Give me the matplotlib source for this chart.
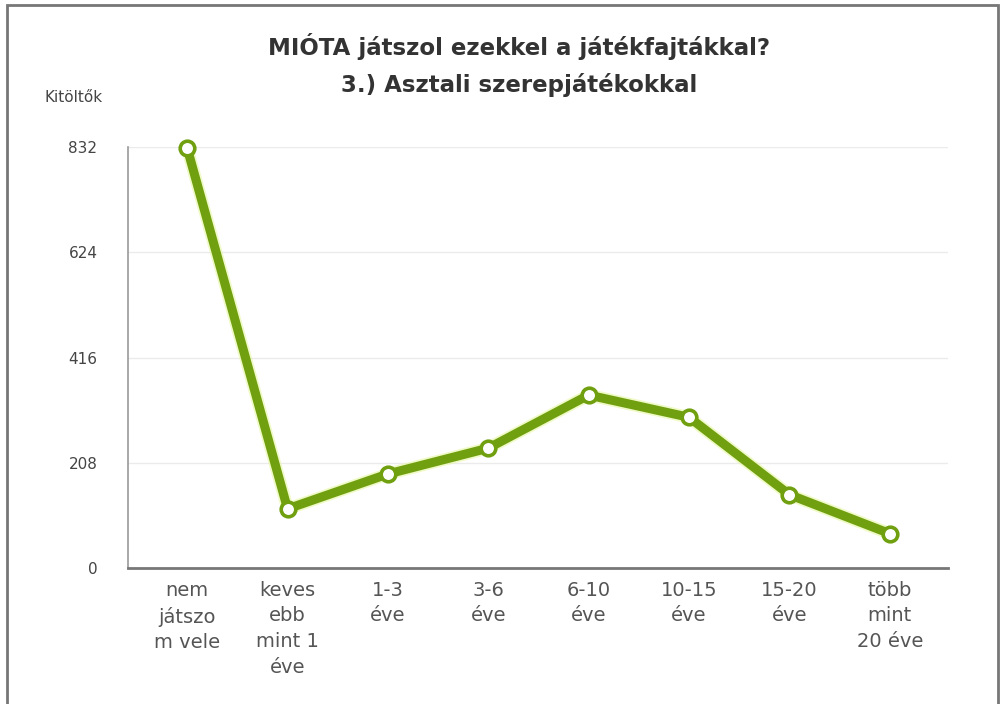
import matplotlib.pyplot as plt
from matplotlib.patches import Rectangle

plt.rcParams['font.family'] = ['DejaVu Sans']

# Data
categories = ["nem\njátszo\nm vele", "keves\nebb\nmint 1\néve", "1-3\néve", "3-6\néve",
              "6-10\néve", "10-15\néve", "15-20\néve", "több\nmint\n20 éve"]
values = [830, 117, 186, 237, 342, 298, 145, 68]
yticks = [0, 208, 416, 624, 832]

green = '#70a010'

fig = plt.figure(figsize=(10.04, 7.04), dpi=100)
ax = fig.add_axes([128 / 1004, 1 - 568 / 704, (948 - 128) / 1004, (568 - 147.3) / 704])

x = list(range(len(categories)))
# light halo behind the line
ax.plot(x, values, color='#e6f7a0', lw=9, solid_capstyle='round', zorder=2, alpha=0.6)
ax.plot(x, values, color=green, lw=6.5, zorder=3,
        marker='o', markersize=10.5, markerfacecolor='white',
        markeredgecolor=green, markeredgewidth=2.6, clip_on=False)

ax.set_xlim(-0.59, 7.58)
ax.set_ylim(0, 832)
ax.set_yticks(yticks)
ax.set_yticklabels([str(v) for v in yticks], fontsize=11, color='#444444')
ax.set_xticks(x)
ax.set_xticklabels(categories, fontsize=14, color='#555555', linespacing=1.45)
ax.tick_params(axis='both', length=0)
ax.tick_params(axis='y', pad=22)
ax.tick_params(axis='x', pad=9)

ax.grid(axis='y', color='#ebebeb', lw=1)
ax.set_axisbelow(True)
for s in ['top', 'right']:
    ax.spines[s].set_visible(False)
ax.spines['left'].set_color('#999999')
ax.spines['left'].set_linewidth(1.2)
ax.spines['bottom'].set_color('#777777')
ax.spines['bottom'].set_linewidth(2)

fig.text(519 / 1004, 1 - 47 / 704, "MIÓTA játszol ezekkel a játékfajtákkal?",
         ha='center', va='center', fontsize=16.5, fontweight='bold', color='#333333')
fig.text(519 / 1004, 1 - 85 / 704, "3.) Asztali szerepjátékokkal",
         ha='center', va='center', fontsize=16.5, fontweight='bold', color='#333333')
fig.text(45 / 1004, 1 - 98 / 704, "Kitöltők", ha='left', va='center',
         fontsize=11, color='#444444')

# outer frame
fig.patches.append(Rectangle((7 / 1004, -0.1), (998 - 7) / 1004, 1.1 - 5 / 704,
                             transform=fig.transFigure, fill=False,
                             edgecolor='#777777', lw=2))

fig.savefig('out.png', dpi=100)
